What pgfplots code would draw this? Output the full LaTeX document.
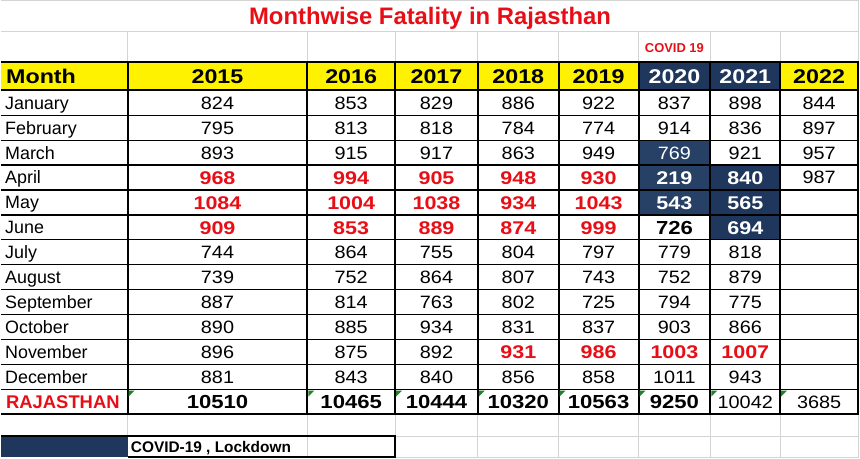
\documentclass[border=0pt]{standalone}
\usepackage{pgfplots}
\pgfplotsset{compat=1.18}
\usepackage{pgfplotstable}
\usepackage{fontspec}
\setmainfont{Liberation Sans}
\newfontfamily\numfont[FakeStretch=1.11]{Liberation Sans}
\newfontfamily\boldnum[FakeStretch=1.17]{Liberation Sans}

\definecolor{sheetred}{RGB}{232,14,22}
\definecolor{navy}{RGB}{31,55,92}
\definecolor{navylight}{RGB}{38,64,102}
\definecolor{gridgray}{RGB}{212,212,212}
\definecolor{flag}{RGB}{34,130,40}

% cell texts, x/y in pixels of the sheet (y down)
\pgfplotstableread{
x y lab
4 102.5 January
4 127.5 February
4 152.5 March
4 177.5 April
4 202.5 May
4 227.5 June
4 252.5 July
4 277.5 August
4 302.5 September
4 327.5 October
4 352.5 November
4 377.5 December
}\months

\pgfplotstableread{
x y lab
217 102.5 824
351 102.5 853
436.5 102.5 829
518.5 102.5 886
599 102.5 922
675 102.5 837
746 102.5 898
820 102.5 844
217 127.5 795
351 127.5 813
436.5 127.5 818
518.5 127.5 784
599 127.5 774
675 127.5 914
746 127.5 836
820 127.5 897
217 152.5 893
351 152.5 915
436.5 152.5 917
518.5 152.5 863
599 152.5 949
746 152.5 921
820 152.5 957
820 177.5 987
217 252.5 744
351 252.5 864
436.5 252.5 755
518.5 252.5 804
599 252.5 797
675 252.5 779
746 252.5 818
217 277.5 739
351 277.5 752
436.5 277.5 864
518.5 277.5 807
599 277.5 743
675 277.5 752
746 277.5 879
217 302.5 887
351 302.5 814
436.5 302.5 763
518.5 302.5 802
599 302.5 725
675 302.5 794
746 302.5 775
217 327.5 890
351 327.5 885
436.5 327.5 934
518.5 327.5 831
599 327.5 837
675 327.5 903
746 327.5 866
217 352.5 896
351 352.5 875
436.5 352.5 892
217 377.5 881
351 377.5 843
436.5 377.5 840
518.5 377.5 856
599 377.5 858
675 377.5 1011
746 377.5 943
746 402.5 10042
820 402.5 3685
}\plain

\pgfplotstableread{
x y lab
217 177.5 968
351 177.5 994
436.5 177.5 905
518.5 177.5 948
599 177.5 930
217 202.5 1084
351 202.5 1004
436.5 202.5 1038
518.5 202.5 934
599 202.5 1043
217 227.5 909
351 227.5 853
436.5 227.5 889
518.5 227.5 874
599 227.5 999
518.5 352.5 931
599 352.5 986
675 352.5 1003
746 352.5 1007
}\redbold

\pgfplotstableread{
x y lab
675 177.5 219
675 202.5 543
746 177.5 840
746 202.5 565
746 227.5 694
}\whitebold

\pgfplotstableread{
x y lab
675 227.5 726
217 402.5 10510
351 402.5 10465
436.5 402.5 10444
518.5 402.5 10320
599 402.5 10563
675 402.5 9250
}\blackbold

\pgfplotstableread{
x y lab
217 76 2015
351 76 2016
436.5 76 2017
518.5 76 2018
599 76 2019
820 76 2022
}\yearsyellow

\pgfplotstableread{
x y lab
675 76 2020
746 76 2021
}\yearsnavy

\pgfplotsset{
  lbl/.style={draw=none, mark=none, nodes near coords, point meta=explicit symbolic,
    every node near coord/.append style={anchor=center, inner sep=0pt, text depth=0pt, #1}},
}

\begin{document}
\begin{tikzpicture}
\begin{axis}[
    width=860bp, height=459bp, scale only axis,
    xmin=0, xmax=860, ymin=0, ymax=459, y dir=reverse,
    hide axis, clip=false,
    unbounded coords=jump,
  ]
  % cell fills
  \addplot [fill=yellow, draw=none] coordinates {(0,62) (859,62) (859,90) (0,90)} --cycle;
  \addplot [fill=navy, draw=none] coordinates {(639,62) (781,62) (781,90) (639,90)} --cycle;
  \addplot [fill=navylight, draw=none] coordinates {(639,140) (711,140) (711,215) (639,215)} --cycle;
  \addplot [fill=navy, draw=none] coordinates {(711,165) (781,165) (781,240) (711,240)} --cycle;
  \addplot [fill=navy, draw=none] coordinates {(0,437) (127,437) (127,458) (0,458)} --cycle;

  % light sheet grid
  \addplot [gridgray, line width=0.9bp] table {
x y
0 0.5
860 0.5
nan nan
0 31.5
860 31.5
nan nan
395 437
860 437
nan nan
395 458.5
860 458.5
nan nan
859 0
859 62
nan nan
127 31.5
127 62
nan nan
307 31.5
307 62
nan nan
395 31.5
395 62
nan nan
478 31.5
478 62
nan nan
559 31.5
559 62
nan nan
639 31.5
639 62
nan nan
711 31.5
711 62
nan nan
781 31.5
781 62
nan nan
127 415
127 437
nan nan
307 415
307 459
nan nan
395 415
395 437
nan nan
478 415
478 459
nan nan
559 415
559 459
nan nan
639 415
639 459
nan nan
711 415
711 459
nan nan
781 415
781 459
nan nan
859 415
859 459
};

  % table rules
  \addplot [black, line width=1.2bp] table {
x y
0 115
860 115
nan nan
0 140
860 140
nan nan
0 165
860 165
nan nan
0 190
860 190
nan nan
0 215
860 215
nan nan
0 240
860 240
nan nan
0 265
860 265
nan nan
0 290
860 290
nan nan
0 315
860 315
nan nan
0 340
860 340
nan nan
0 365
860 365
nan nan
0 390
860 390
};
  \addplot [black, line width=1.6bp] coordinates {(0,90) (860,90)};
  \addplot [black, line width=2bp] table {
x y
0 62
860 62
nan nan
0 415
860 415
nan nan
127 62
127 415
nan nan
307 62
307 415
nan nan
395 62
395 415
nan nan
478 62
478 415
nan nan
559 62
559 415
nan nan
639 62
639 415
nan nan
711 62
711 415
nan nan
781 62
781 415
nan nan
858.5 62
858.5 415
nan nan
0 437
395 437
395 458
127 458
};

  % note flags on the totals
  \addplot [fill=flag, draw=none] table {
x y
128 391
134 391
128 397
nan nan
308 391
314 391
308 397
nan nan
396 391
402 391
396 397
nan nan
479 391
485 391
479 397
nan nan
560 391
566 391
560 397
nan nan
640 391
646 391
640 397
nan nan
712 391
718 391
712 397
nan nan
782 391
788 391
782 397
};

  % texts
  \addplot [lbl={font=\fontsize{24}{24}\selectfont\bfseries, text=sheetred, text height=17bp}]
    coordinates {(430,16) [Monthwise Fatality in Rajasthan]};
  \addplot [lbl={font=\fontsize{13}{13}\selectfont\bfseries, text=sheetred, text height=9.3bp}]
    coordinates {(675,47.5) [COVID 19]};
  \addplot [lbl={anchor=west, font=\fontsize{20}{20}\selectfont\boldnum\bfseries, text height=14.3bp}]
    coordinates {(5,76) [Month]};
  \addplot [lbl={font=\fontsize{20}{20}\selectfont\boldnum\bfseries, text height=14.3bp}]
    table [meta=lab] {\yearsyellow};
  \addplot [lbl={font=\fontsize{20}{20}\selectfont\boldnum\bfseries, text=white, text height=14.3bp}]
    table [meta=lab] {\yearsnavy};
  \addplot [lbl={anchor=west, font=\fontsize{18}{18}\selectfont, text height=12.9bp}]
    table [meta=lab] {\months};
  \addplot [lbl={font=\fontsize{18}{18}\selectfont\numfont, text height=12.9bp}]
    table [meta=lab] {\plain};
  \addplot [lbl={font=\fontsize{18}{18}\selectfont\numfont, text=white, text height=12.9bp}]
    coordinates {(675,152.5) [769]};
  \addplot [lbl={font=\fontsize{18.5}{18.5}\selectfont\boldnum\bfseries, text=sheetred, text height=13.3bp}]
    table [meta=lab] {\redbold};
  \addplot [lbl={font=\fontsize{18.5}{18.5}\selectfont\boldnum\bfseries, text=white, text height=13.3bp}]
    table [meta=lab] {\whitebold};
  \addplot [lbl={font=\fontsize{19}{19}\selectfont\boldnum\bfseries, text height=13.6bp}]
    table [meta=lab] {\blackbold};
  \addplot [lbl={anchor=west, font=\fontsize{18.5}{18.5}\selectfont\bfseries, text=sheetred, text height=13.3bp}]
    coordinates {(5,402.5) [RAJASTHAN]};
  \addplot [lbl={anchor=west, font=\fontsize{15.5}{15.5}\selectfont\bfseries, text height=11.1bp}]
    coordinates {(130,447.5) [{COVID-19 , Lockdown}]};
\end{axis}
\end{tikzpicture}
\end{document}
